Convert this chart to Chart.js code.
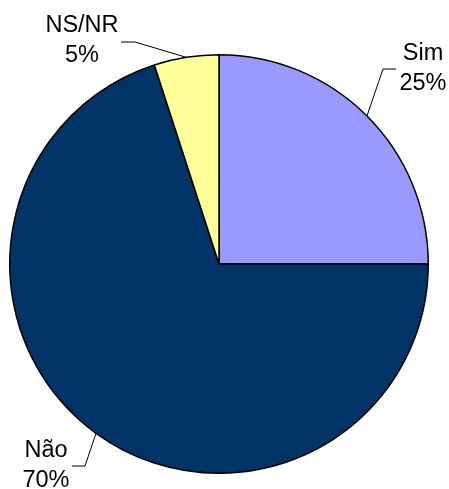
<!DOCTYPE html>
<html>
<head>
<meta charset="utf-8">
<script src="https://cdn.jsdelivr.net/npm/chart.js@4"></script>
<style>
  html, body { margin: 0; padding: 0; background: #fff; }
  canvas { display: block; }
</style>
</head>
<body>
<canvas id="pieChart" width="449" height="489"></canvas>
<script>
// data
var categories = ['Sim', 'Não', 'NS/NR'];
var percents = [25, 70, 5];
var colors = ['#9999FF', '#003366', '#FFFF99'];

// label placement: text centre / first baseline, elbow of leader line, end of leader line (relative to pie centre)
var labelLayout = [
    { tx: 204, ty: -204, elbow: [164, -195], end: [177, -195] },
    { tx: -173, ty: 193, elbow: [-134, 202], end: [-147, 202] },
    { tx: -137, ty: -232, elbow: [-84, -222], end: [-98, -222] }
];

var labelPlugin = {
    id: 'pieLabels',
    afterDraw: function (chart) {
        var ctx = chart.ctx;
        var meta = chart.getDatasetMeta(0);
        ctx.save();
        ctx.font = '23.5px "Liberation Sans", Arial, sans-serif';
        ctx.fillStyle = '#000';
        ctx.strokeStyle = '#000';
        ctx.lineWidth = 1;
        ctx.textAlign = 'center';
        ctx.textBaseline = 'alphabetic';
        meta.data.forEach(function (arc, i) {
            var p = arc.getProps(['x', 'y', 'startAngle', 'endAngle', 'outerRadius'], true);
            var mid = (p.startAngle + p.endAngle) / 2;
            var ex = p.x + Math.cos(mid) * p.outerRadius;
            var ey = p.y + Math.sin(mid) * p.outerRadius;
            var L = labelLayout[i];
            ctx.beginPath();
            ctx.moveTo(ex, ey);
            ctx.lineTo(p.x + L.elbow[0], p.y + L.elbow[1]);
            ctx.lineTo(p.x + L.end[0], p.y + L.end[1]);
            ctx.stroke();
            ctx.fillText(categories[i], p.x + L.tx, p.y + L.ty);
            ctx.fillText(percents[i] + '%', p.x + L.tx, p.y + L.ty + 30);
        });
        ctx.restore();
    }
};

var pieCtx = document.getElementById('pieChart').getContext('2d');
var pieChart = new Chart(pieCtx, {
    type: 'pie',
    data: {
        labels: categories,
        datasets: [{
            data: percents,
            backgroundColor: colors,
            borderColor: '#000',
            borderWidth: 1.5
        }]
    },
    options: {
        responsive: false,
        animation: false,
        layout: { padding: { left: 9, right: 20, top: 54, bottom: 15 } },
        plugins: {
            legend: { display: false },
            tooltip: { enabled: false }
        }
    },
    plugins: [labelPlugin]
});
</script>
</body>
</html>
